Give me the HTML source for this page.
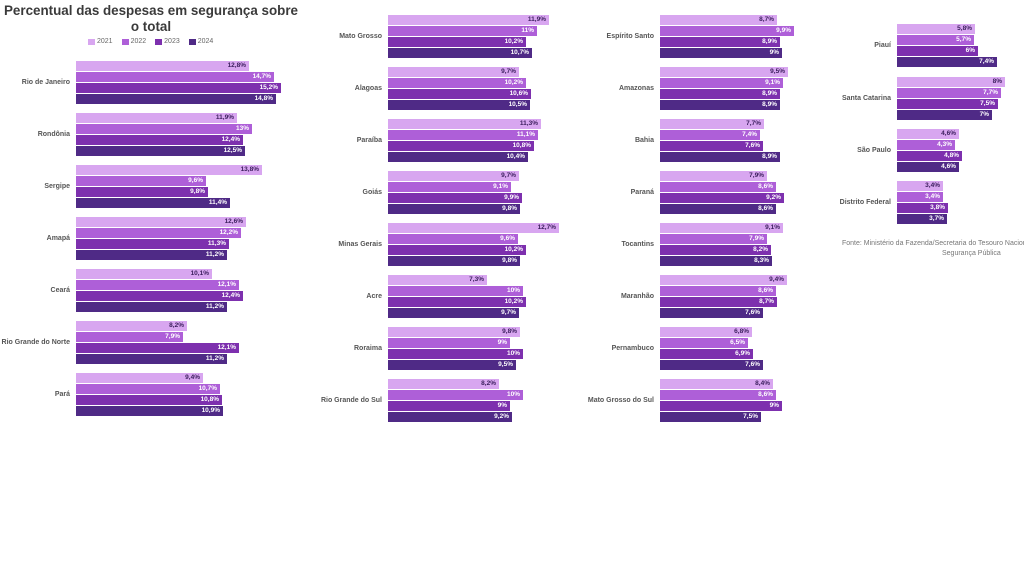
<!DOCTYPE html>
<html><head><meta charset="utf-8"><style>
*{margin:0;padding:0;box-sizing:border-box}
body{width:1024px;height:576px;background:#fff;position:relative;overflow:hidden;font-family:"Liberation Sans",sans-serif}
.t{position:absolute;left:0;width:302px;text-align:center;font-size:13.4px;font-weight:bold;color:#3a3a3a;line-height:16px;top:3px;white-space:nowrap}
.lg{position:absolute;top:38px;left:88px;font-size:7px;color:#666;display:flex;gap:9px}
.lg span{display:flex;align-items:center;gap:2px}
.lg i{display:inline-block;width:7px;height:6px}
.g{position:absolute;height:44px}
.g .l{position:absolute;right:100%;margin-right:6px;top:0;height:44px;line-height:44px;white-space:nowrap;font-size:7px;font-weight:bold;color:#555}
.b{height:10px;margin-bottom:1px;font-size:6.5px;font-weight:bold;text-align:right;padding-right:3px;line-height:10px;color:#fff;white-space:nowrap}
.a{background:#d8a6f0;color:#3a1d5c}.c{background:#ae5fd8}.d{background:#7d30ae}.e{background:#4f2a86}
.f{position:absolute;top:239px;left:842px;width:182px;overflow:hidden;font-size:7px;color:#777;white-space:nowrap;line-height:10px}
</style></head><body>
<div class="t">Percentual das despesas em segurança sobre<br>o total</div>
<div class="lg"><span><i class="a"></i>2021</span><span><i class="c"></i>2022</span><span><i class="d"></i>2023</span><span><i class="e"></i>2024</span></div>

<div class="g" style="left:76px;top:61px"><div class="l">Rio de Janeiro</div><div class="b a" style="width:173px">12,8%</div><div class="b c" style="width:198px">14,7%</div><div class="b d" style="width:205px">15,2%</div><div class="b e" style="width:200px">14,8%</div></div>
<div class="g" style="left:76px;top:113px"><div class="l">Rondônia</div><div class="b a" style="width:161px">11,9%</div><div class="b c" style="width:176px">13%</div><div class="b d" style="width:167px">12,4%</div><div class="b e" style="width:169px">12,5%</div></div>
<div class="g" style="left:76px;top:165px"><div class="l">Sergipe</div><div class="b a" style="width:186px">13,8%</div><div class="b c" style="width:130px">9,6%</div><div class="b d" style="width:132px">9,8%</div><div class="b e" style="width:154px">11,4%</div></div>
<div class="g" style="left:76px;top:217px"><div class="l">Amapá</div><div class="b a" style="width:170px">12,6%</div><div class="b c" style="width:165px">12,2%</div><div class="b d" style="width:153px">11,3%</div><div class="b e" style="width:151px">11,2%</div></div>
<div class="g" style="left:76px;top:269px"><div class="l">Ceará</div><div class="b a" style="width:136px">10,1%</div><div class="b c" style="width:163px">12,1%</div><div class="b d" style="width:167px">12,4%</div><div class="b e" style="width:151px">11,2%</div></div>
<div class="g" style="left:76px;top:321px"><div class="l">Rio Grande do Norte</div><div class="b a" style="width:111px">8,2%</div><div class="b c" style="width:107px">7,9%</div><div class="b d" style="width:163px">12,1%</div><div class="b e" style="width:151px">11,2%</div></div>
<div class="g" style="left:76px;top:373px"><div class="l">Pará</div><div class="b a" style="width:127px">9,4%</div><div class="b c" style="width:144px">10,7%</div><div class="b d" style="width:146px">10,8%</div><div class="b e" style="width:147px">10,9%</div></div>

<div class="g" style="left:388px;top:15px"><div class="l">Mato Grosso</div><div class="b a" style="width:161px">11,9%</div><div class="b c" style="width:149px">11%</div><div class="b d" style="width:138px">10,2%</div><div class="b e" style="width:144px">10,7%</div></div>
<div class="g" style="left:388px;top:67px"><div class="l">Alagoas</div><div class="b a" style="width:131px">9,7%</div><div class="b c" style="width:138px">10,2%</div><div class="b d" style="width:143px">10,6%</div><div class="b e" style="width:142px">10,5%</div></div>
<div class="g" style="left:388px;top:119px"><div class="l">Paraíba</div><div class="b a" style="width:153px">11,3%</div><div class="b c" style="width:150px">11,1%</div><div class="b d" style="width:146px">10,8%</div><div class="b e" style="width:140px">10,4%</div></div>
<div class="g" style="left:388px;top:171px"><div class="l">Goiás</div><div class="b a" style="width:131px">9,7%</div><div class="b c" style="width:123px">9,1%</div><div class="b d" style="width:134px">9,9%</div><div class="b e" style="width:132px">9,8%</div></div>
<div class="g" style="left:388px;top:223px"><div class="l">Minas Gerais</div><div class="b a" style="width:171px">12,7%</div><div class="b c" style="width:130px">9,6%</div><div class="b d" style="width:138px">10,2%</div><div class="b e" style="width:132px">9,8%</div></div>
<div class="g" style="left:388px;top:275px"><div class="l">Acre</div><div class="b a" style="width:99px">7,3%</div><div class="b c" style="width:135px">10%</div><div class="b d" style="width:138px">10,2%</div><div class="b e" style="width:131px">9,7%</div></div>
<div class="g" style="left:388px;top:327px"><div class="l">Roraima</div><div class="b a" style="width:132px">9,8%</div><div class="b c" style="width:122px">9%</div><div class="b d" style="width:135px">10%</div><div class="b e" style="width:128px">9,5%</div></div>
<div class="g" style="left:388px;top:379px"><div class="l">Rio Grande do Sul</div><div class="b a" style="width:111px">8,2%</div><div class="b c" style="width:135px">10%</div><div class="b d" style="width:122px">9%</div><div class="b e" style="width:124px">9,2%</div></div>

<div class="g" style="left:660px;top:15px"><div class="l">Espírito Santo</div><div class="b a" style="width:117px">8,7%</div><div class="b c" style="width:134px">9,9%</div><div class="b d" style="width:120px">8,9%</div><div class="b e" style="width:122px">9%</div></div>
<div class="g" style="left:660px;top:67px"><div class="l">Amazonas</div><div class="b a" style="width:128px">9,5%</div><div class="b c" style="width:123px">9,1%</div><div class="b d" style="width:120px">8,9%</div><div class="b e" style="width:120px">8,9%</div></div>
<div class="g" style="left:660px;top:119px"><div class="l">Bahia</div><div class="b a" style="width:104px">7,7%</div><div class="b c" style="width:100px">7,4%</div><div class="b d" style="width:103px">7,6%</div><div class="b e" style="width:120px">8,9%</div></div>
<div class="g" style="left:660px;top:171px"><div class="l">Paraná</div><div class="b a" style="width:107px">7,9%</div><div class="b c" style="width:116px">8,6%</div><div class="b d" style="width:124px">9,2%</div><div class="b e" style="width:116px">8,6%</div></div>
<div class="g" style="left:660px;top:223px"><div class="l">Tocantins</div><div class="b a" style="width:123px">9,1%</div><div class="b c" style="width:107px">7,9%</div><div class="b d" style="width:111px">8,2%</div><div class="b e" style="width:112px">8,3%</div></div>
<div class="g" style="left:660px;top:275px"><div class="l">Maranhão</div><div class="b a" style="width:127px">9,4%</div><div class="b c" style="width:116px">8,6%</div><div class="b d" style="width:117px">8,7%</div><div class="b e" style="width:103px">7,6%</div></div>
<div class="g" style="left:660px;top:327px"><div class="l">Pernambuco</div><div class="b a" style="width:92px">6,8%</div><div class="b c" style="width:88px">6,5%</div><div class="b d" style="width:93px">6,9%</div><div class="b e" style="width:103px">7,6%</div></div>
<div class="g" style="left:660px;top:379px"><div class="l">Mato Grosso do Sul</div><div class="b a" style="width:113px">8,4%</div><div class="b c" style="width:116px">8,6%</div><div class="b d" style="width:122px">9%</div><div class="b e" style="width:101px">7,5%</div></div>

<div class="g" style="left:897px;top:24px"><div class="l">Piauí</div><div class="b a" style="width:78px">5,8%</div><div class="b c" style="width:77px">5,7%</div><div class="b d" style="width:81px">6%</div><div class="b e" style="width:100px">7,4%</div></div>
<div class="g" style="left:897px;top:77px"><div class="l">Santa Catarina</div><div class="b a" style="width:108px">8%</div><div class="b c" style="width:104px">7,7%</div><div class="b d" style="width:101px">7,5%</div><div class="b e" style="width:95px">7%</div></div>
<div class="g" style="left:897px;top:129px"><div class="l">São Paulo</div><div class="b a" style="width:62px">4,6%</div><div class="b c" style="width:58px">4,3%</div><div class="b d" style="width:65px">4,8%</div><div class="b e" style="width:62px">4,6%</div></div>
<div class="g" style="left:897px;top:181px"><div class="l">Distrito Federal</div><div class="b a" style="width:46px">3,4%</div><div class="b c" style="width:46px">3,4%</div><div class="b d" style="width:51px">3,8%</div><div class="b e" style="width:50px">3,7%</div></div>

<div class="f">Fonte: Ministério da Fazenda/Secretaria do Tesouro Nacional e Anuário Brasileiro de<br><span style="padding-left:100px">Segurança Pública</span></div>
</body></html>
